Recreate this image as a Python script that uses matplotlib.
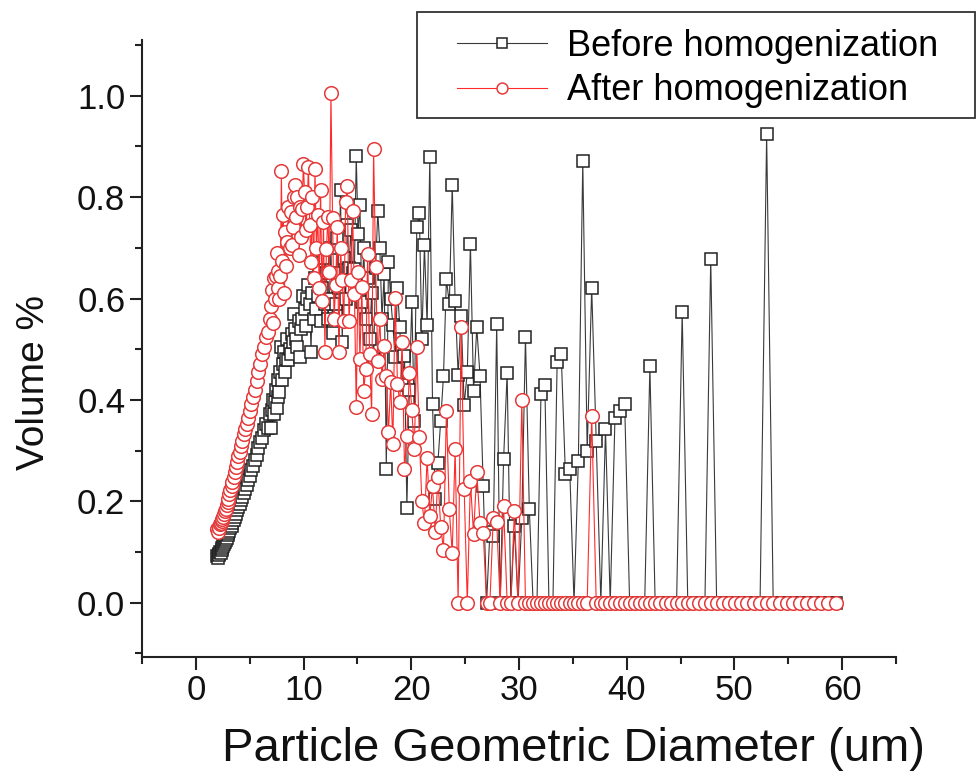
import matplotlib
matplotlib.use("Agg")
import matplotlib.pyplot as plt
from matplotlib.patches import Rectangle
from matplotlib.ticker import MultipleLocator, FormatStrFormatter

# Particle geometric diameter (um) - fine channels (2-7 um)
diam_fine = [2.00, 2.06, 2.12, 2.19, 2.25, 2.32, 2.39, 2.46, 2.53, 2.61,
             2.69, 2.77, 2.85, 2.94, 3.03, 3.12, 3.21, 3.31, 3.40, 3.51,
             3.61, 3.72, 3.83, 3.95, 4.07, 4.19, 4.31, 4.44, 4.58, 4.71,
             4.85, 5.00, 5.15, 5.30, 5.46, 5.63, 5.80, 5.97, 6.15, 6.33,
             6.52, 6.72, 6.92]
# coarse channels (7-59.4 um)
diam_coarse = [7.00, 7.08, 7.16, 7.24, 7.33, 7.41, 7.50, 7.58, 7.67, 7.76,
               7.85, 7.94, 8.03, 8.12, 8.22, 8.31, 8.41, 8.50, 8.60, 8.70,
               8.80, 8.90, 9.00, 9.11, 9.21, 9.32, 9.42, 9.53, 9.64, 9.75,
               9.87, 9.98, 10.09, 10.21, 10.33, 10.45, 10.57, 10.69, 10.81, 10.93,
               11.06, 11.19, 11.32, 11.45, 11.58, 11.71, 11.85, 11.98, 12.12, 12.26,
               12.40, 12.54, 12.69, 12.83, 12.98, 13.13, 13.28, 13.43, 13.59, 13.74,
               13.90, 14.06, 14.22, 14.39, 14.55, 14.72, 14.89, 15.06, 15.23, 15.41,
               15.59, 15.77, 15.95, 16.13, 16.32, 16.50, 16.69, 16.89, 17.08, 17.28,
               17.48, 17.68, 17.88, 18.09, 18.29, 18.50, 18.72, 18.93, 19.15, 19.37,
               19.59, 19.82, 20.05, 20.28, 20.51, 20.75, 20.98, 21.22, 21.47, 21.72,
               21.97, 22.22, 22.47, 22.73, 22.99, 23.26, 23.53, 23.80, 24.07, 24.35,
               24.63, 24.91, 25.20, 25.49, 25.78, 26.08, 26.38, 26.68, 26.99, 27.30,
               27.61, 27.93, 28.25, 28.57, 28.90, 29.24, 29.57, 29.91, 30.26, 30.60,
               30.96, 31.31, 31.67, 32.04, 32.40, 32.78, 33.15, 33.54, 33.92, 34.31,
               34.71, 35.11, 35.51, 35.92, 36.33, 36.75, 37.17, 37.60, 38.03, 38.47,
               38.91, 39.36, 39.81, 40.27, 40.73, 41.20, 41.67, 42.15, 42.64, 43.13,
               43.63, 44.13, 44.63, 45.15, 45.67, 46.19, 46.72, 47.26, 47.80, 48.35,
               48.91, 49.47, 50.04, 50.62, 51.20, 51.79, 52.38, 52.99, 53.60, 54.21,
               54.84, 55.47, 56.10, 56.75, 57.40, 58.06, 58.73, 59.40]

# Volume % before homogenization
before_fine = [0.092, 0.088, 0.096, 0.094, 0.100, 0.098, 0.104, 0.108, 0.112, 0.115,
               0.120, 0.124, 0.128, 0.133, 0.138, 0.142, 0.147, 0.152, 0.158, 0.163,
               0.170, 0.175, 0.182, 0.188, 0.195, 0.202, 0.208, 0.216, 0.225, 0.232,
               0.242, 0.250, 0.262, 0.270, 0.282, 0.292, 0.305, 0.318, 0.325, 0.340,
               0.352, 0.345, 0.372]
before_coarse = [0.345, 0.380, 0.400, 0.372, 0.395, 0.420, 0.385, 0.405, 0.440, 0.415,
                 0.455, 0.505, 0.440, 0.470, 0.495, 0.455, 0.480, 0.520, 0.478, 0.500,
                 0.490, 0.530, 0.515, 0.570, 0.540, 0.520, 0.505, 0.555, 0.485, 0.540,
                 0.560, 0.606, 0.580, 0.545, 0.600, 0.626, 0.590, 0.494, 0.610, 0.560,
                 0.640, 0.580, 0.606, 0.660, 0.555, 0.620, 0.680, 0.590, 0.650, 0.560,
                 0.600, 0.700, 0.533, 0.650, 0.590, 0.720, 0.620, 0.814, 0.514, 0.680,
                 0.600, 0.745, 0.660, 0.735, 0.650, 0.659, 0.881, 0.728, 0.784, 0.593,
                 0.700, 0.560, 0.640, 0.520, 0.610, 0.480, 0.660, 0.772, 0.700, 0.560,
                 0.649, 0.263, 0.672, 0.600, 0.547, 0.485, 0.620, 0.544, 0.430, 0.487,
                 0.187, 0.420, 0.594, 0.359, 0.741, 0.768, 0.520, 0.705, 0.547, 0.880,
                 0.392, 0.204, 0.276, 0.359, 0.448, 0.638, 0.590, 0.824, 0.596, 0.450,
                 0.566, 0.390, 0.455, 0.708, 0.418, 0.543, 0.448, 0.230, 0.0, 0.140,
                 0.131, 0.550, 0.0, 0.283, 0.454, 0.0, 0.151, 0.0, 0.167, 0.524,
                 0.184, 0.0, 0.0, 0.411, 0.430, 0.0, 0.0, 0.474, 0.490, 0.253,
                 0.263, 0.0, 0.280, 0.871, 0.299, 0.621, 0.319, 0.0, 0.342, 0.0,
                 0.365, 0.378, 0.392, 0.0, 0.0, 0.0, 0.0, 0.466, 0.0, 0.0,
                 0.0, 0.0, 0.0, 0.573, 0.0, 0.0, 0.0, 0.0, 0.679, 0.0,
                 0.0, 0.0, 0.0, 0.0, 0.0, 0.0, 0.0, 0.924, 0.0, 0.0,
                 0.0, 0.0, 0.0, 0.0, 0.0, 0.0, 0.0, 0.0]

# Volume % after homogenization
after_fine = [0.145, 0.140, 0.150, 0.148, 0.155, 0.158, 0.162, 0.166, 0.170, 0.175,
              0.180, 0.185, 0.192, 0.198, 0.205, 0.215, 0.222, 0.230, 0.238, 0.248,
              0.258, 0.268, 0.278, 0.290, 0.298, 0.310, 0.320, 0.332, 0.342, 0.352,
              0.365, 0.378, 0.392, 0.405, 0.420, 0.438, 0.455, 0.470, 0.490, 0.505,
              0.525, 0.535, 0.560]
after_coarse = [0.585, 0.616, 0.552, 0.640, 0.600, 0.645, 0.690, 0.620, 0.655, 0.600,
                0.645, 0.851, 0.675, 0.764, 0.610, 0.731, 0.665, 0.711, 0.780, 0.700,
                0.770, 0.705, 0.741, 0.800, 0.824, 0.760, 0.800, 0.685, 0.780, 0.721,
                0.777, 0.866, 0.810, 0.735, 0.780, 0.860, 0.745, 0.672, 0.800, 0.640,
                0.855, 0.700, 0.764, 0.620, 0.815, 0.596, 0.751, 0.495, 0.698, 0.760,
                0.653, 1.005, 0.758, 0.560, 0.626, 0.741, 0.495, 0.700, 0.636, 0.556,
                0.790, 0.822, 0.555, 0.636, 0.772, 0.609, 0.386, 0.653, 0.480, 0.622,
                0.418, 0.461, 0.688, 0.490, 0.372, 0.895, 0.662, 0.477, 0.560, 0.441,
                0.507, 0.448, 0.336, 0.435, 0.313, 0.601, 0.431, 0.395, 0.515, 0.264,
                0.329, 0.454, 0.380, 0.303, 0.504, 0.326, 0.200, 0.158, 0.286, 0.171,
                0.230, 0.140, 0.249, 0.150, 0.105, 0.378, 0.184, 0.098, 0.303, 0.0,
                0.543, 0.224, 0.0, 0.240, 0.135, 0.257, 0.158, 0.138, 0.0, 0.0,
                0.168, 0.160, 0.0, 0.190, 0.0, 0.0, 0.180, 0.0, 0.400, 0.0,
                0.0, 0.0, 0.0, 0.0, 0.0, 0.0, 0.0, 0.0, 0.0, 0.0,
                0.0, 0.0, 0.0, 0.0, 0.0, 0.369, 0.0, 0.0, 0.0, 0.0,
                0.0, 0.0, 0.0, 0.0, 0.0, 0.0, 0.0, 0.0, 0.0, 0.0,
                0.0, 0.0, 0.0, 0.0, 0.0, 0.0, 0.0, 0.0, 0.0, 0.0,
                0.0, 0.0, 0.0, 0.0, 0.0, 0.0, 0.0, 0.0, 0.0, 0.0,
                0.0, 0.0, 0.0, 0.0, 0.0, 0.0, 0.0, 0.0]

series_labels = ["Before homogenization", "After homogenization"]

diameter = diam_fine + diam_coarse
before = before_fine + before_coarse
after = after_fine + after_coarse

plt.rcParams['font.family'] = ['Liberation Sans', 'DejaVu Sans']

W, H = 979, 777
fig = plt.figure(figsize=(W / 100, H / 100), dpi=100)
ax = fig.add_axes([142 / W, 120 / H, 754 / W, 617 / H])

ax.plot(diameter, before, '-s', color='#3a3a3a', lw=0.8, ms=8.7,
        mfc='white', mec='#222222', mew=1.1, label=series_labels[0], zorder=2)
ax.plot(diameter, after, '-o', color='#ff2a2a', lw=0.8, ms=9.8,
        mfc='white', mec='#e53a3a', mew=1.1, label=series_labels[1], zorder=3)

ax.set_xlim(-5, 65)
ax.set_ylim(-0.107, 1.11)
ax.xaxis.set_major_locator(MultipleLocator(10))
ax.xaxis.set_minor_locator(MultipleLocator(5))
ax.yaxis.set_major_locator(MultipleLocator(0.2))
ax.yaxis.set_minor_locator(MultipleLocator(0.1))
ax.yaxis.set_major_formatter(FormatStrFormatter('%.1f'))

for s in ['top', 'right']:
    ax.spines[s].set_visible(False)
for s in ['left', 'bottom']:
    ax.spines[s].set_linewidth(1.5)
    ax.spines[s].set_color('#222222')

ax.tick_params(which='major', direction='out', length=9, width=1.5,
               labelsize=25, pad=3, colors='#222222', labelcolor='#111111')
ax.tick_params(which='minor', direction='out', length=5, width=1.5,
               colors='#222222')

ax.set_xlabel('Particle Geometric Diameter (um)', fontsize=34, color='#111111')
ax.set_ylabel('Volume %', fontsize=28, color='#111111')
ax.xaxis.set_label_coords(0.572, -0.113)
ax.yaxis.set_label_coords(-0.12, 0.445)

# legend frame (figure pixels 417..975 x 12..118)
frame = Rectangle((417 / W, 1 - 118 / H), 558 / W, 106 / H,
                  transform=fig.transFigure, facecolor='white',
                  edgecolor='#333333', linewidth=1.3, clip_on=False, zorder=4.5)
ax.add_artist(frame)
leg = ax.legend(loc='upper left', bbox_to_anchor=(457 / W, 1 - 29 / H),
                bbox_transform=fig.transFigure, fontsize=26, frameon=False,
                handlelength=2.5, handletextpad=0.55, markerscale=0.8,
                borderpad=0, labelspacing=0.26, borderaxespad=0)
leg.set_zorder(5)

fig.savefig('out.png', dpi=100)
